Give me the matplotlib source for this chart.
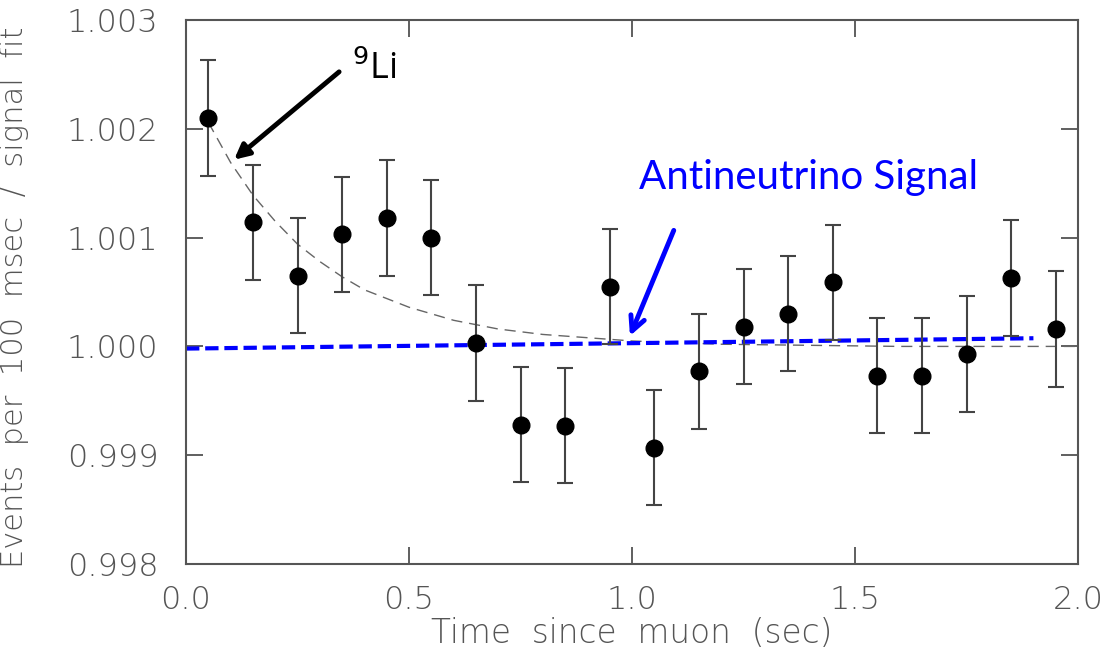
import matplotlib
matplotlib.use("Agg")
import matplotlib.pyplot as plt

# data
t_bins = [0.05, 0.15, 0.25, 0.35, 0.45, 0.55, 0.65, 0.75, 0.85, 0.95,
          1.05, 1.15, 1.25, 1.35, 1.45, 1.55, 1.65, 1.75, 1.85, 1.95]
ratio = [1.00210, 1.00114, 1.00065, 1.00103, 1.00118, 1.00100, 1.00003, 0.99928, 0.99927, 1.00055,
         0.99907, 0.99977, 1.00018, 1.00030, 1.00059, 0.99973, 0.99973, 0.99993, 1.00063, 1.00016]
ratio_err = [0.00053] * 20

# 9Li + signal fit (grey dashed)
fit_t = [0.05, 0.10, 0.15, 0.20, 0.25, 0.30, 0.35, 0.40, 0.50, 0.60, 0.70, 0.80,
         0.90, 1.00, 1.20, 1.40, 1.60, 2.00]
fit_y = [1.00206, 1.00169, 1.00139, 1.00115, 1.00094, 1.00078, 1.00064, 1.00052, 1.00036, 1.00024,
         1.00016, 1.00011, 1.00008, 1.00005, 1.00002, 1.00001, 1.00000, 1.00000]

# antineutrino signal only (blue dashed)
sig_t = [0.0, 1.9]
sig_y = [0.99998, 1.000075]

TXT = "#555555"
plt.rcParams['font.family'] = ['DejaVu Sans']

fig = plt.figure(figsize=(11.06, 6.5), dpi=100)
ax = fig.add_axes([0.1682, 0.1323, 0.8065, 0.8369])

ax.plot(fit_t, fit_y, color="#666666", lw=1.0, dashes=(8, 5))
ax.plot(sig_t, sig_y, color="#0000ff", lw=3.0, dashes=(3.2, 1.4))
ax.errorbar(t_bins, ratio, yerr=ratio_err, fmt="o", color="black", ms=12,
            ecolor="#444444", elinewidth=1.5, capsize=6, capthick=1.5, zorder=3)

ax.set_xlim(0, 2.0)
ax.set_ylim(0.998, 1.003)
ax.set_xticks([0.0, 0.5, 1.0, 1.5, 2.0])
ax.set_yticks([0.998, 0.999, 1.000, 1.001, 1.002, 1.003])
ax.set_yticklabels(["0.998", "0.999", "1.000", "1.001", "1.002", "1.003"])
ax.set_xticklabels(["0.0", "0.5", "1.0", "1.5", "2.0"])
ax.tick_params(direction="in", length=12, width=1.2, color="#444444",
               top=True, right=True, labelsize=23, labelcolor=TXT)
ax.tick_params(axis="y", pad=20)
ax.tick_params(axis="x", pad=15)
for s in ax.spines.values():
    s.set_color("#555555")
    s.set_linewidth(1.5)
for lab in ax.get_xticklabels() + ax.get_yticklabels():
    lab.set_fontweight("light")

ax.set_xlabel("Time  since  muon  (sec)", fontsize=23.5, color=TXT, fontweight="light")
ax.xaxis.set_label_coords(0.5, -0.097)
ax.set_ylabel("Events  per  100  msec  /  signal  fit", fontsize=22, color=TXT,
              fontweight="light")
ax.yaxis.set_label_coords(-0.176, 0.49)

# annotations
ax.annotate("", xy=(0.103, 1.00170), xytext=(0.348, 1.00254),
            arrowprops=dict(arrowstyle="-|>", color="black", lw=3.5, mutation_scale=22))
ax.text(0.372, 1.00246, "$^{9}$Li", fontsize=26, color="black", family="Open Sans",
        va="baseline", ha="left")

ax.annotate("", xy=(0.993, 1.000073), xytext=(1.096, 1.00109),
            arrowprops=dict(arrowstyle="->", color="#0000ff", lw=3.5, mutation_scale=26))
ax.text(1.395, 1.00155, "Antineutrino Signal", fontsize=29, color="#0000ff",
        family="Lato", ha="center", va="center")

fig.savefig("out.png", dpi=100)
